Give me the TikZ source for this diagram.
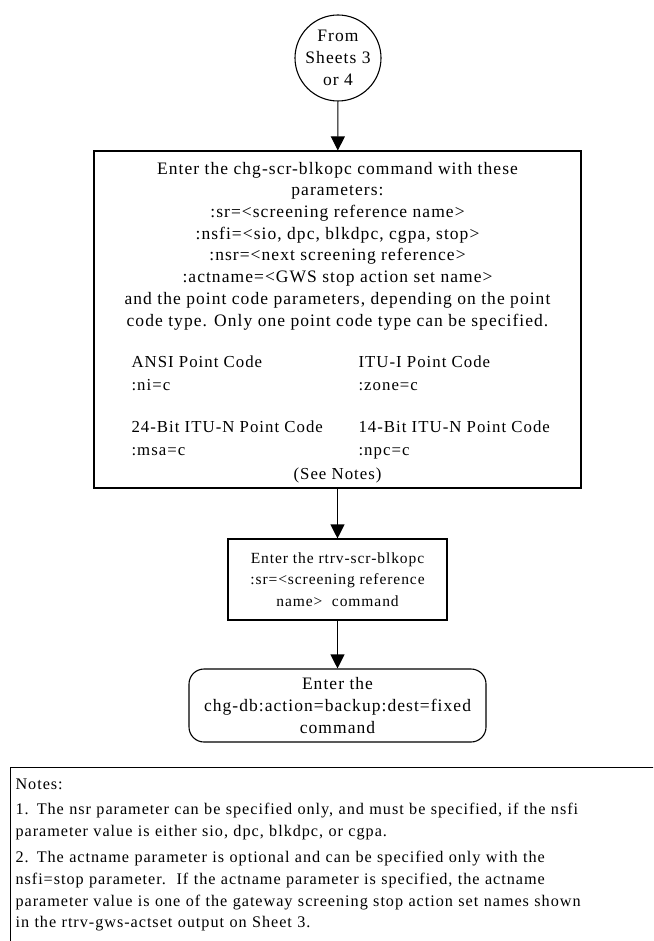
\documentclass[tikz,border=0pt]{standalone}
\usepackage{fontspec}
\setmainfont{Liberation Serif}[LetterSpace=6]
\usetikzlibrary{arrows.meta,positioning}
\newcommand\chartfont{\fontsize{15.5}{21.7}\selectfont}
\newcommand\widefont{\fontsize{17.5}{21.7}\selectfont}
\newcommand\colfont{\fontsize{16.8}{22.5}\selectfont}
\newcommand\notefont{\fontsize{16.2}{21.8}\selectfont}

\begin{document}
\begin{tikzpicture}[
      x=1pt,
      y=-1pt,
      >={Triangle[width=14pt,length=14pt]},
      line width=1.1pt,
      flow/.style={->},
      txt/.style={font=\chartfont, inner sep=0pt},
      panel/.style={draw, rectangle},
      sheet/.style={draw, circle, minimum size=86pt, align=center, txt, font=\widefont},
      cmdbox/.style={panel, align=center, txt},
      endbox/.style={draw, rounded corners=15pt, align=center, txt, font=\widefont}
    ]
    \useasboundingbox (0,0) rectangle (653,941);
    \clip (0,0) rectangle (653,941);

    \node[sheet] (from) at (338,58) {From\\Sheets 3\\or 4};

    \node[panel, minimum width=487pt, minimum height=337pt] (chgscr) at (337.5,319.5) {};
    % base anchor sits on the last line
    \node[txt, font=\widefont, align=center, anchor=base] (params) at (337.5,326)
      {Enter the chg-scr-blkopc command with these\\
       parameters:\\
       :sr=<screening reference name>\\
       :nsfi=<sio, dpc, blkdpc, cgpa, stop>\\
       :nsr=<next screening reference>\\
       :actname=<GWS stop action set name>\\
       and the point code parameters, depending on the point\\
       code type. Only one point code type can be specified.};
    \node[txt, font=\colfont, align=left, anchor=base west] (ansi) at (131,390)
      {ANSI Point Code\\:ni=c};
    \node[txt, font=\colfont, align=left, anchor=base west] (itui) at (358,390)
      {ITU-I Point Code\\:zone=c};
    \node[txt, font=\colfont, align=left, anchor=base west] (itun24) at (131,455)
      {24-Bit ITU-N Point Code\\:msa=c};
    \node[txt, font=\colfont, align=left, anchor=base west] (itun14) at (358,455)
      {14-Bit ITU-N Point Code\\:npc=c};
    \node[txt, font=\colfont, anchor=base] (seenotes) at (337.5,479.3) {(See Notes)};

    \node[cmdbox, minimum width=219pt, minimum height=81pt] (rtrv) at (337.5,579.5)
      {Enter the rtrv-scr-blkopc\\:sr=<screening reference\\name>\ \ command};

    \node[endbox, minimum width=297pt, minimum height=73pt] (chgdb) at (337.5,705.5)
      {Enter the\\chg-db:action=backup:dest=fixed\\command};

    \draw[flow] (from) -- (chgscr);
    \draw[flow] (chgscr) -- (rtrv);
    \draw[flow] (rtrv) -- (chgdb);

    \node[draw, txt, font=\notefont, align=left, anchor=north west, inner xsep=5pt,
      inner ysep=11pt, text width=680pt] (notes) at (10,767)
      {Notes:\\[4pt]
       1. The nsr parameter can be specified only, and must be specified, if the nsfi\\
       parameter value is either sio, dpc, blkdpc, or cgpa.\\[4pt]
       2. The actname parameter is optional and can be specified only with the\\
       nsfi=stop parameter.\ \ If the actname parameter is specified, the actname\\
       parameter value is one of the gateway screening stop action set names shown\\
       in the rtrv-gws-actset output on Sheet 3.};
  \end{tikzpicture}
\end{document}
